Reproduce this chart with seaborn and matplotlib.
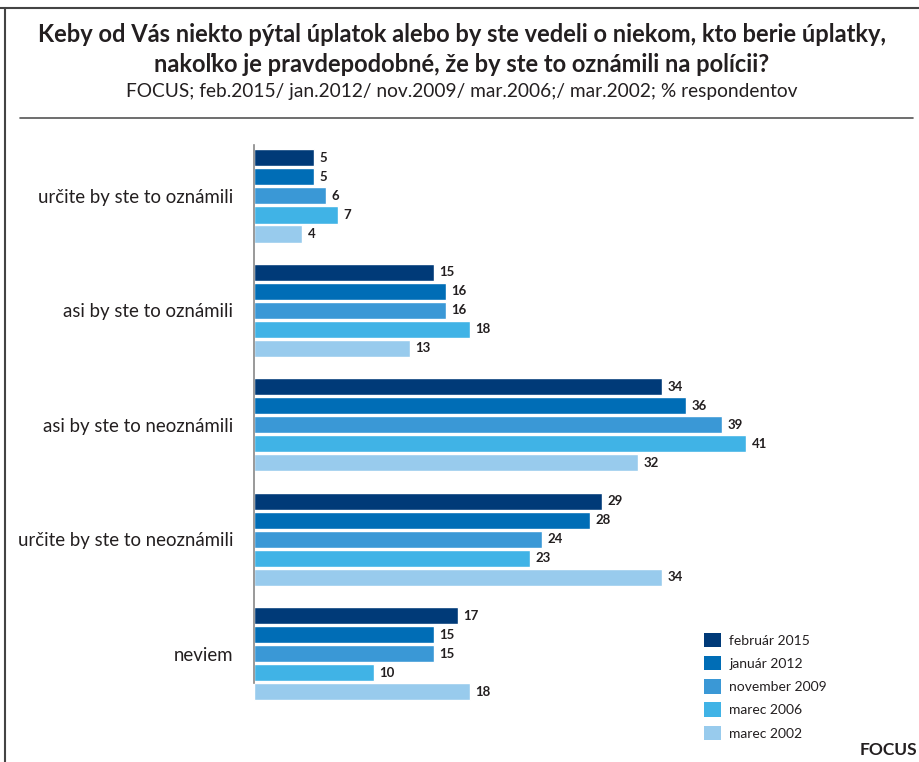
import matplotlib
matplotlib.use("Agg")
import matplotlib.pyplot as plt
import seaborn as sns
import pandas as pd
from matplotlib.patches import Patch
from matplotlib.lines import Line2D

categories = ["určite by ste to oznámili", "asi by ste to oznámili", "asi by ste to neoznámili",
              "určite by ste to neoznámili", "neviem"]
series = ["február 2015", "január 2012", "november 2009", "marec 2006", "marec 2002"]
feb2015 = [5, 15, 34, 29, 17]
jan2012 = [5, 16, 36, 28, 15]
nov2009 = [6, 16, 39, 24, 15]
mar2006 = [7, 18, 41, 23, 10]
mar2002 = [4, 13, 32, 34, 18]
colors = ["#003a78", "#006db6", "#3a98d6", "#40b3e6", "#98cbed"]

values = [feb2015, jan2012, nov2009, mar2006, mar2002]
rows = []
for s, vals in zip(series, values):
    for c, v in zip(categories, vals):
        rows.append({"kategoria": c, "obdobie": s, "hodnota": v})
df = pd.DataFrame(rows)

sns.set_theme(style="white")
plt.rcParams["font.family"] = ["Lato", "DejaVu Sans"]
TXT = "#231f20"

fig = plt.figure(figsize=(9.19, 7.62), dpi=100)
ax = fig.add_axes([254 / 919, 1 - 710 / 762, (900 - 254) / 919, (710 - 145) / 762])

sns.barplot(data=df, y="kategoria", x="hodnota", hue="obdobie", orient="h",
            order=categories, hue_order=series, palette=colors,
            width=0.83, gap=0.1, dodge=True, saturation=1, ax=ax, legend=False)

for cont in ax.containers:
    ax.bar_label(cont, padding=4, fontsize=9.5, fontweight="bold", color=TXT)

ax.set_xlim(0, (900 - 254) / 12.0)
ax.set_ylim(4.49, -0.445)
ax.set_xlabel("")
ax.set_ylabel("")
ax.set_xticks([])
ax.tick_params(axis="y", length=0, pad=15, labelsize=13.4, labelcolor=TXT)
for sp in ["top", "right", "bottom"]:
    ax.spines[sp].set_visible(False)
ax.spines["left"].set_color("#888888")
ax.spines["left"].set_linewidth(1.2)
ax.spines["left"].set_bounds(-0.445, 4.25)

handles = [Patch(facecolor=c, edgecolor="none", label=s) for c, s in zip(colors, series)]
fig.legend(handles=handles, loc="upper left", bbox_to_anchor=(691 / 919, 1 - 620 / 762),
           frameon=False, fontsize=10, handlelength=1.25, handleheight=1.25,
           labelspacing=0.62, handletextpad=0.6, labelcolor=TXT)

fig.text(462 / 919, 1 - 34 / 762, "Keby od Vás niekto pýtal úplatok alebo by ste vedeli o niekom, kto berie úplatky,",
         ha="center", va="center", fontsize=17, fontweight="bold", color=TXT)
fig.text(462 / 919, 1 - 64 / 762, "nakoľko je pravdepodobné, že by ste to oznámili na polícii?",
         ha="center", va="center", fontsize=17, fontweight="bold", color=TXT)
fig.text(462 / 919, 1 - 92 / 762, "FOCUS; feb.2015/ jan.2012/ nov.2009/ mar.2006;/ mar.2002; % respondentov",
         ha="center", va="center", fontsize=13.8, color=TXT)
fig.text(917 / 919, 1 - 750 / 762, "FOCUS", ha="right", va="center", fontsize=12.5,
         fontweight="bold", color=TXT)

fig.add_artist(Line2D([20 / 919, 913 / 919], [1 - 118 / 762] * 2, color="#555555", lw=1.2))
fig.add_artist(Line2D([0, 1], [1 - 8 / 762] * 2, color="#444444", lw=1.5))
fig.add_artist(Line2D([5 / 919] * 2, [0, 1 - 8 / 762], color="#444444", lw=1.5))

fig.savefig("out.png", dpi=100)
